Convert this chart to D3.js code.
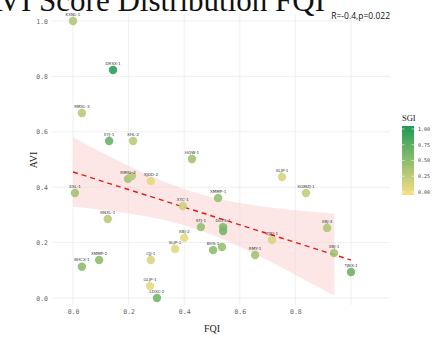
<!DOCTYPE html>
<html><head><meta charset="utf-8">
<script src="https://cdn.jsdelivr.net/npm/d3@7"></script>
<style>body{margin:0;background:#fff}svg{display:block}</style>
</head><body>
<script>
// ---- data ----
const labels = ["KXNL-1","DRSX-1","RMXL-3","XXL-1","RNXL-1","BHCX-1","XMMP-2","CJJ-1","GLJP-1","LDXC-2","SLJP-1","XBJ-2","XYC-1","STJ-1","EYJ-1","XHL-2","RMXL-2","","XJDD-2","HQW-1","XMMP-1","XLJP-1","XGMZJ-1","XBJ-3","XBJ-1","TJBX-1","ZJRJ-1","RMY-1","DGYS-1","","BHS-1",""];
const fqi = [0.0,0.144,0.032,0.007,0.125,0.032,0.094,0.28,0.277,0.302,0.367,0.40,0.395,0.46,0.13,0.216,0.198,0.212,0.28,0.428,0.522,0.752,0.838,0.914,0.939,1.0,0.716,0.655,0.54,0.54,0.504,0.536];
const avi = [1.0,0.823,0.668,0.379,0.285,0.113,0.137,0.137,0.043,0.0,0.177,0.217,0.332,0.256,0.567,0.567,0.43,0.44,0.422,0.502,0.361,0.437,0.379,0.253,0.162,0.094,0.209,0.155,0.256,0.242,0.173,0.184];
const sgi = [0.35,0.95,0.3,0.4,0.3,0.5,0.5,0.15,0.08,0.6,0.1,0.08,0.2,0.45,0.65,0.3,0.4,0.3,0.1,0.4,0.45,0.15,0.25,0.35,0.4,0.65,0.15,0.4,0.55,0.6,0.5,0.45];
const fitX = [0,1.0];
const fitY = [0.455,0.137];
const bandX = [0,0.1,0.2,0.3,0.4,0.5,0.6,0.7,0.8,0.94];
const bandLo = [0.33,0.319,0.305,0.288,0.263,0.228,0.185,0.136,0.084,0.008];
const bandHi = [0.58,0.527,0.477,0.432,0.393,0.364,0.343,0.328,0.317,0.304];
const xTicks = [0,0.2,0.4,0.6,0.8];
const yTicks = [0,0.2,0.4,0.6,0.8,1.0];
const legendTicks = [0,0.25,0.5,0.75,1.0];
const titleText = "AVI Score Distribution FQI";
const statText = "R=-0.4,p=0.022";

const W=446,H=338;
const svg=d3.select("body").append("svg").attr("width",W).attr("height",H);
const panel={l:52,r:390,t:14,b:305};
const x=d3.scaleLinear().domain([0,1]).range([73,351]);
const y=d3.scaleLinear().domain([0,1]).range([298,21]);
const col=d3.scaleLinear().domain([0,1]).range(["#f9df86","#1f9a56"]).interpolate(d3.interpolateRgb);

// grid
const g=svg.append("g");
g.selectAll(".gx").data([0,0.2,0.4,0.6,0.8,1.0]).join("line")
 .attr("x1",d=>x(d)).attr("x2",d=>x(d)).attr("y1",panel.t).attr("y2",panel.b)
 .attr("stroke","#ebebeb").attr("stroke-width",0.8);
g.selectAll(".gy").data(yTicks).join("line")
 .attr("y1",d=>y(d)).attr("y2",d=>y(d)).attr("x1",panel.l).attr("x2",panel.r)
 .attr("stroke","#ebebeb").attr("stroke-width",0.8);

// axes (text only)
const xAxis=d3.axisBottom(x).tickValues(xTicks).tickFormat(d3.format(".1f")).tickSize(0).tickPadding(4);
const ax=svg.append("g").attr("transform",`translate(0,${panel.b})`).call(xAxis);
ax.select(".domain").remove();
ax.selectAll("text").attr("font-family","DejaVu Sans Mono").attr("font-size",6.5).attr("fill","#666");
const yAxis=d3.axisLeft(y).tickValues(yTicks).tickFormat(d3.format(".1f")).tickSize(0).tickPadding(4);
const ay=svg.append("g").attr("transform",`translate(${panel.l},0)`).call(yAxis);
ay.select(".domain").remove();
ay.selectAll("text").attr("font-family","DejaVu Sans Mono").attr("font-size",6.5).attr("fill","#666");

// ribbon
const band=bandX.map((v,i)=>({x:v,lo:bandLo[i],hi:bandHi[i]}));
svg.append("path").datum(band)
 .attr("d",d3.area().x(d=>x(d.x)).y0(d=>y(d.lo)).y1(d=>y(d.hi)).curve(d3.curveMonotoneX))
 .attr("fill","#f9d2d2").attr("fill-opacity",0.55);
// fit line
svg.append("path").datum(fitX.map((v,i)=>({x:v,y:fitY[i]})))
 .attr("d",d3.line().x(d=>x(d.x)).y(d=>y(d.y)))
 .attr("stroke","#e31a1c").attr("stroke-width",1.4).attr("stroke-dasharray","5,4").attr("fill","none");

// points
const pts=labels.map((l,i)=>({l,x:fqi[i],y:avi[i],s:sgi[i]}));
svg.append("g").selectAll("circle").data(pts).join("circle")
 .attr("cx",d=>x(d.x)).attr("cy",d=>y(d.y)).attr("r",4.2)
 .attr("fill",d=>col(d.s)).attr("fill-opacity",0.9);
svg.append("g").selectAll("text").data(pts.filter(d=>d.l)).join("text")
 .attr("x",d=>x(d.x)).attr("y",d=>y(d.y)-5.2).attr("text-anchor","middle")
 .attr("font-family","DejaVu Sans").attr("font-size",4.1).attr("fill","#333").text(d=>d.l);

// title & labels
svg.append("text").attr("x",325).attr("y",11).attr("text-anchor","end")
 .attr("font-family","Liberation Serif").attr("font-size",31).attr("fill","#111").text(titleText);
svg.append("text").attr("x",390).attr("y",19).attr("text-anchor","end")
 .attr("font-family","Open Sans").attr("font-size",8.5).attr("fill","#111").text(statText);
svg.append("text").attr("x",212).attr("y",332).attr("text-anchor","middle")
 .attr("font-family","Liberation Serif").attr("font-size",10).attr("fill","#222").text("FQI");
svg.append("text").attr("transform","translate(37,160) rotate(-90)").attr("text-anchor","middle")
 .attr("font-family","Liberation Serif").attr("font-size",10).attr("fill","#222").text("AVI");

// legend
const lg=svg.append("g");
const ly=d3.scaleLinear().domain([0,1]).range([192,129]);
const defs=svg.append("defs");
const grad=defs.append("linearGradient").attr("id","lg").attr("x1",0).attr("x2",0).attr("y1",1).attr("y2",0);
d3.range(0,1.01,0.1).forEach(t=>grad.append("stop").attr("offset",t).attr("stop-color",col(t)));
lg.append("rect").attr("x",402).attr("y",ly(1)-3).attr("width",12).attr("height",ly(0)-ly(1)+6).attr("fill","url(#lg)");
lg.selectAll(".lt").data(legendTicks).join("line")
 .attr("x1",402).attr("x2",404.5).attr("y1",d=>ly(d)).attr("y2",d=>ly(d)).attr("stroke","#fff").attr("stroke-width",0.6);
lg.selectAll(".lt2").data(legendTicks).join("line")
 .attr("x1",411.5).attr("x2",414).attr("y1",d=>ly(d)).attr("y2",d=>ly(d)).attr("stroke","#fff").attr("stroke-width",0.6);
lg.selectAll("text.v").data(legendTicks).join("text").attr("class","v")
 .attr("x",418).attr("y",d=>ly(d)+1.8).attr("font-family","DejaVu Sans Mono").attr("font-size",5)
 .attr("fill","#444").text(d=>d3.format(".2f")(d));
lg.append("text").attr("x",402).attr("y",121).attr("font-family","Liberation Serif").attr("font-size",8.5).attr("fill","#222").text("SGI");
</script>
</body></html>
